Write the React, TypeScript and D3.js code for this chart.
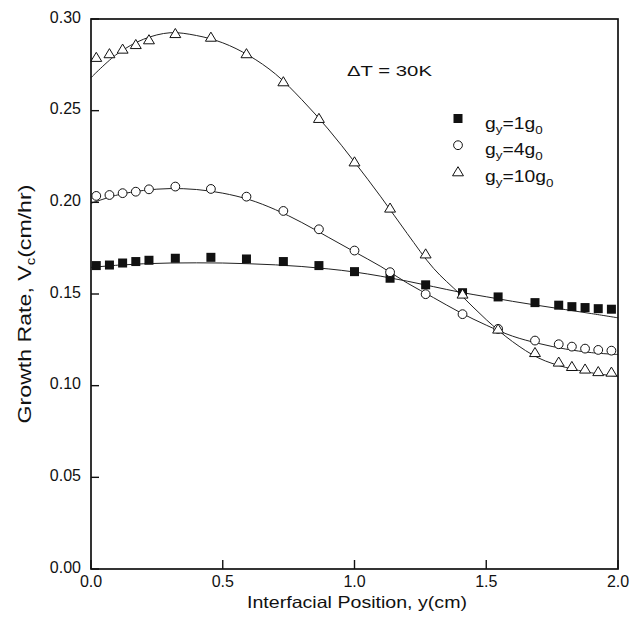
import * as d3 from "d3";

// sample positions (cm), shared by all three series
const positions = [0.02, 0.07, 0.12, 0.17, 0.22, 0.32, 0.455, 0.59, 0.73, 0.865, 1.0, 1.135, 1.27, 1.41, 1.545, 1.685, 1.775, 1.825, 1.875, 1.925, 1.975];

const g1 = [0.1655, 0.1658, 0.1669, 0.1677, 0.1684, 0.1695, 0.170, 0.1691, 0.1677, 0.1655, 0.1622, 0.1586, 0.155, 0.1507, 0.1484, 0.1453, 0.1439, 0.1431, 0.1426, 0.142, 0.1417];
const g4 = [0.2035, 0.204, 0.205, 0.2058, 0.2071, 0.2086, 0.2073, 0.2031, 0.1953, 0.1853, 0.1737, 0.1619, 0.1499, 0.139, 0.131, 0.1246, 0.1226, 0.1213, 0.1202, 0.1195, 0.1191];
const g10 = [0.279, 0.281, 0.2835, 0.286, 0.2886, 0.292, 0.290, 0.281, 0.2657, 0.2457, 0.222, 0.1968, 0.1718, 0.1499, 0.1308, 0.118, 0.1128, 0.1104, 0.109, 0.1076, 0.1073];

// fitted curves
const fitX = [0, 0.1, 0.2, 0.3, 0.4, 0.5, 0.6, 0.7, 0.8, 0.9, 1.0, 1.1, 1.2, 1.3, 1.4, 1.5, 1.6, 1.7, 1.8, 1.9, 2.0];
const fit1 = [0.1645, 0.1657, 0.1665, 0.1669, 0.167, 0.1669, 0.1665, 0.1659, 0.165, 0.1637, 0.162, 0.1597, 0.157, 0.154, 0.151, 0.1485, 0.146, 0.1437, 0.1415, 0.1393, 0.137];
const fit4 = [0.1995, 0.204, 0.2065, 0.2075, 0.207, 0.205, 0.2015, 0.196, 0.189, 0.181, 0.173, 0.165, 0.156, 0.148, 0.140, 0.133, 0.127, 0.123, 0.120, 0.118, 0.117];
const fit10 = [0.268, 0.281, 0.289, 0.2925, 0.291, 0.287, 0.280, 0.270, 0.256, 0.240, 0.222, 0.203, 0.183, 0.164, 0.150, 0.136, 0.124, 0.115, 0.110, 0.107, 0.105];

const xTicks = [0, 0.5, 1.0, 1.5, 2.0];
const yTicks = [0, 0.05, 0.1, 0.15, 0.2, 0.25, 0.3];

const legendLabels = ["1", "4", "10"];

const W = 643;
const H = 626;
const m = { left: 91, right: 25, top: 19, bottom: 57 };
const font = "'Liberation Sans', Arial, sans-serif";
const ink = "#111";

function Marker({ kind, x, y }: { kind: string; x: number; y: number }) {
  if (kind === "square") {
    return <rect x={x - 4.5} y={y - 4.5} width={9} height={9} fill={ink} />;
  }
  if (kind === "circle") {
    return <circle cx={x} cy={y} r={4.4} fill="white" stroke={ink} strokeWidth={1} />;
  }
  const s = 5.2;
  return (
    <path
      d={`M${x},${y - s} L${x + s * 1.05},${y + s * 0.75} L${x - s * 1.05},${y + s * 0.75} Z`}
      fill="white"
      stroke={ink}
      strokeWidth={1}
    />
  );
}

export default function App() {
  const x = d3.scaleLinear().domain([0, 2]).range([m.left, W - m.right]);
  const y = d3.scaleLinear().domain([0, 0.3]).range([H - m.bottom, m.top]);

  const line = d3
    .line<number>()
    .x((_, i) => x(fitX[i]))
    .y((d) => y(d))
    .curve(d3.curveCatmullRom.alpha(0.5));

  const series = [
    { kind: "square", vals: g1, fit: fit1 },
    { kind: "circle", vals: g4, fit: fit4 },
    { kind: "triangle", vals: g10, fit: fit10 },
  ];

  const x0 = x(0), x1 = x(2), y0 = y(0), y1 = y(0.3);

  return (
    <svg width={W} height={H} style={{ position: "absolute", left: 0, top: 0, background: "white" }} fontFamily={font}>
      {/* fitted curves */}
      {series.map((s) => (
        <path key={s.kind + "fit"} d={line(s.fit) || ""} fill="none" stroke="#222" strokeWidth={1} />
      ))}
      {/* markers */}
      {series.map((s) =>
        s.vals.map((v, i) => <Marker key={s.kind + i} kind={s.kind} x={x(positions[i])} y={y(v)} />)
      )}

      {/* frame */}
      <rect x={x0} y={y1} width={x1 - x0} height={y0 - y1} fill="none" stroke={ink} strokeWidth={1.7} />

      {/* ticks */}
      {xTicks.map((t) => (
        <g key={"xt" + t}>
          <line x1={x(t)} x2={x(t)} y1={y0} y2={y0 - 9} stroke={ink} strokeWidth={1.4} />
          <text x={x(t)} y={587} textAnchor="middle" fontSize={16} fill={ink}>
            {t.toFixed(1)}
          </text>
        </g>
      ))}
      {yTicks.map((t) => (
        <g key={"yt" + t}>
          <line x1={x0} x2={x0 + 8} y1={y(t)} y2={y(t)} stroke={ink} strokeWidth={1.4} />
          <text x={81} y={y(t) + 3.5} textAnchor="end" fontSize={16} fill={ink}>
            {t.toFixed(2)}
          </text>
        </g>
      ))}

      {/* axis titles */}
      <text x={357} y={607.5} textAnchor="middle" fontSize={16.5} fill={ink} textLength={220} lengthAdjust="spacingAndGlyphs">
        Interfacial Position, y(cm)
      </text>
      <g transform={`translate(31, 304) rotate(-90) scale(1.25,1)`}>
        <text x={0} y={0} textAnchor="middle" fontSize={18.5} fill={ink}>
          Growth Rate, V<tspan fontSize={12} dy={4}>c</tspan>
          <tspan dy={-4}>(cm/hr)</tspan>
        </text>
      </g>

      {/* annotation */}
      <text x={347} y={76} fontSize={15.5} fill={ink} textLength={85} lengthAdjust="spacingAndGlyphs">ΔT = 30K</text>

      {/* legend */}
      {series.map((s, i) => {
        const ly = 118.5 + i * 26.7;
        return (
          <g key={"lg" + s.kind}>
            <Marker kind={s.kind} x={458} y={ly} />
            <g transform={`translate(485, ${ly + 10}) scale(1.17,1)`}>
              <text x={0} y={0} fontSize={16.5} fill={ink}>
                g<tspan fontSize={11.5} dy={4}>y</tspan>
                <tspan dy={-4}>={legendLabels[i]}g</tspan>
                <tspan fontSize={11.5} dy={5}>0</tspan>
              </text>
            </g>
          </g>
        );
      })}
    </svg>
  );
}
